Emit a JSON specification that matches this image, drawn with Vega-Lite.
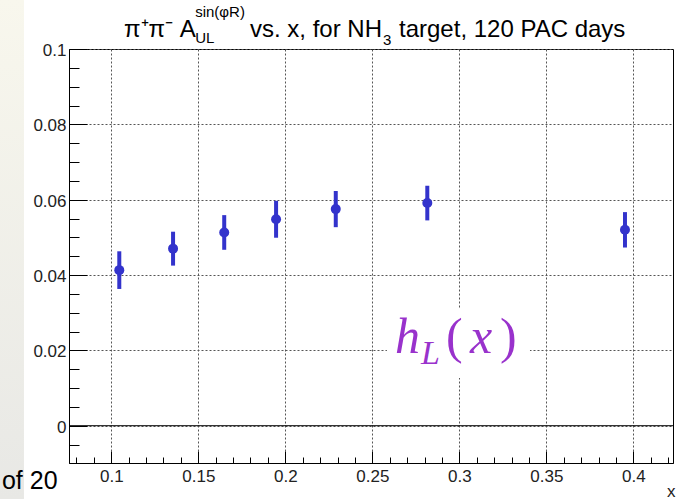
{
  "$schema": "https://vega.github.io/schema/vega-lite/v6.json",
  "width": 604,
  "height": 414,
  "autosize": {"type": "none"},
  "padding": {"left": 69, "top": 49, "right": 4, "bottom": 36},
  "background": "white",
  "config": {
    "view": {"stroke": "black", "strokeWidth": 1},
    "font": "Liberation Sans"
  },
  "data": {
    "values": [
      {"x": 0.1046, "y": 0.0413, "err": 0.0050},
      {"x": 0.1355, "y": 0.0470, "err": 0.0045},
      {"x": 0.1649, "y": 0.0513, "err": 0.0046},
      {"x": 0.1947, "y": 0.0548, "err": 0.0049},
      {"x": 0.2290, "y": 0.0575, "err": 0.0048},
      {"x": 0.2816, "y": 0.0591, "err": 0.0046},
      {"x": 0.3952, "y": 0.0520, "err": 0.0047}
    ]
  },
  "resolve": {"axis": {"x": "independent", "y": "independent"}},
  "layer": [
    {
      "data": {"values": [{}]},
      "mark": {"type": "rect", "fill": "white"},
      "encoding": {
        "x": {"datum": 0.2584, "type": "quantitative", "axis": {"orient": "bottom", "values": [0.08, 0.09, 0.11, 0.12, 0.13, 0.14, 0.16, 0.17, 0.18, 0.19, 0.21, 0.22, 0.23, 0.24, 0.26, 0.27, 0.28, 0.29, 0.31, 0.32, 0.33, 0.34, 0.36, 0.37, 0.38, 0.39, 0.41, 0.42], "tickSize": -6, "tickColor": "black", "labels": false, "grid": false, "domain": false, "title": null}},
        "x2": {"datum": 0.3406},
        "y": {"datum": 0.01266, "type": "quantitative", "axis": {"orient": "left", "values": [-0.005, 0.005, 0.01, 0.015, 0.025, 0.03, 0.035, 0.045, 0.05, 0.055, 0.065, 0.07, 0.075, 0.085, 0.09, 0.095], "tickSize": -10, "tickColor": "black", "labels": false, "grid": false, "domain": false, "title": null}},
        "y2": {"datum": 0.03125}
      }
    },
    {
      "data": {"values": [{}]},
      "mark": {"type": "rule", "color": "black", "strokeWidth": 1},
      "encoding": {"y": {"datum": 0, "type": "quantitative", "axis": null}}
    },
    {
      "mark": {"type": "errorbar", "thickness": 4, "color": "#3333cc", "ticks": false},
      "encoding": {
        "x": {"field": "x", "type": "quantitative", "axis": null},
        "y": {"field": "y", "type": "quantitative", "axis": null},
        "yError": {"field": "err"}
      }
    },
    {
      "mark": {"type": "circle", "size": 100, "color": "#3333cc", "opacity": 1},
      "encoding": {
        "x": {
          "field": "x", "type": "quantitative",
          "scale": {"domain": [0.0757, 0.4228], "nice": false, "zero": false},
          "axis": {
            "orient": "bottom",
            "values": [0.1, 0.15, 0.2, 0.25, 0.3, 0.35, 0.4],
            "format": ".2~f",
            "grid": true, "gridDash": [2, 2], "gridColor": "#555", "gridWidth": 1,
            "tickSize": -12, "tickColor": "black", "domainColor": "black",
            "labelFont": "Liberation Sans", "labelFontSize": 17, "labelColor": "#222", "labelPadding": 17,
            "title": "x", "titleFont": "Liberation Sans", "titleFontSize": 17, "titleFontWeight": "normal", "titleColor": "#222",
            "titleAnchor": "end", "titleAlign": "right", "titleX": 606, "titleY": 33, "titleBaseline": "alphabetic"
          }
        },
        "y": {
          "field": "y", "type": "quantitative",
          "scale": {"domain": [-0.0099, 0.1], "nice": false, "zero": false},
          "axis": {
            "orient": "left",
            "values": [0, 0.02, 0.04, 0.06, 0.08, 0.1],
            "format": ".2~f",
            "grid": true, "gridDash": [2, 2], "gridColor": "#555", "gridWidth": 1,
            "tickSize": -18, "tickColor": "black", "domainColor": "black",
            "labelFont": "Liberation Sans", "labelFontSize": 17, "labelColor": "#222", "labelPadding": 21, "labelOffset": 1.5,
            "title": null
          }
        }
      }
    },
    {
      "data": {"values": [{}]},
      "mark": {"type": "rect", "fill": {"gradient": "linear", "x1": 0, "y1": 0, "x2": 0, "y2": 1, "stops": [{"offset": 0, "color": "#f8f7ed"}, {"offset": 1, "color": "#e8e8e5"}]}},
      "encoding": {
        "x": {"datum": 0.03603, "type": "quantitative", "axis": null},
        "x2": {"datum": 0.04983},
        "y": {"datum": -0.01946, "type": "quantitative", "axis": null},
        "y2": {"datum": 0.11301}
      }
    },
    {
      "data": {"values": [{"t": "of 20"}]},
      "mark": {"type": "text", "align": "left", "baseline": "alphabetic", "fontSize": 25, "font": "Liberation Sans", "color": "black"},
      "encoding": {"text": {"field": "t"}, "x": {"datum": 0.03718, "type": "quantitative", "axis": null}, "y": {"datum": -0.01667, "type": "quantitative", "axis": null}}
    },
    {
      "data": {"values": [{"t": "π⁺π⁻ A"}]},
      "mark": {"type": "text", "align": "left", "baseline": "alphabetic", "fontSize": 24, "font": "Liberation Sans", "color": "black"},
      "encoding": {"text": {"field": "t"}, "x": {"datum": 0.1073, "type": "quantitative", "axis": null}, "y": {"datum": 0.10319, "type": "quantitative", "axis": null}}
    },
    {
      "data": {"values": [{"t": "sin(φR)"}]},
      "mark": {"type": "text", "align": "left", "baseline": "alphabetic", "fontSize": 15, "font": "Liberation Sans", "color": "black"},
      "encoding": {"text": {"field": "t"}, "x": {"datum": 0.14822, "type": "quantitative", "axis": null}, "y": {"datum": 0.10849, "type": "quantitative", "axis": null}}
    },
    {
      "data": {"values": [{"t": "UL"}]},
      "mark": {"type": "text", "align": "left", "baseline": "alphabetic", "fontSize": 15, "font": "Liberation Sans", "color": "black"},
      "encoding": {"text": {"field": "t"}, "x": {"datum": 0.14822, "type": "quantitative", "axis": null}, "y": {"datum": 0.10159, "type": "quantitative", "axis": null}}
    },
    {
      "data": {"values": [{"t": "vs. x, for NH"}]},
      "mark": {"type": "text", "align": "left", "baseline": "alphabetic", "fontSize": 24, "font": "Liberation Sans", "color": "black"},
      "encoding": {"text": {"field": "t"}, "x": {"datum": 0.17971, "type": "quantitative", "axis": null}, "y": {"datum": 0.10319, "type": "quantitative", "axis": null}}
    },
    {
      "data": {"values": [{"t": "3"}]},
      "mark": {"type": "text", "align": "left", "baseline": "alphabetic", "fontSize": 15, "font": "Liberation Sans", "color": "black"},
      "encoding": {"text": {"field": "t"}, "x": {"datum": 0.25615, "type": "quantitative", "axis": null}, "y": {"datum": 0.10106, "type": "quantitative", "axis": null}}
    },
    {
      "data": {"values": [{"t": "target, 120 PAC days"}]},
      "mark": {"type": "text", "align": "left", "baseline": "alphabetic", "fontSize": 24, "font": "Liberation Sans", "color": "black"},
      "encoding": {"text": {"field": "t"}, "x": {"datum": 0.26535, "type": "quantitative", "axis": null}, "y": {"datum": 0.10319, "type": "quantitative", "axis": null}}
    },
    {
      "data": {"values": [{"t": "h"}]},
      "mark": {"type": "text", "align": "left", "baseline": "alphabetic", "fontSize": 50, "font": "Liberation Serif", "fontStyle": "italic", "color": "#9932cc"},
      "encoding": {"text": {"field": "t"}, "x": {"datum": 0.26305, "type": "quantitative", "axis": null}, "y": {"datum": 0.0193, "type": "quantitative", "axis": null}}
    },
    {
      "data": {"values": [{"t": "L"}]},
      "mark": {"type": "text", "align": "left", "baseline": "alphabetic", "fontSize": 34, "font": "Liberation Serif", "fontStyle": "italic", "color": "#9932cc"},
      "encoding": {"text": {"field": "t"}, "x": {"datum": 0.27799, "type": "quantitative", "axis": null}, "y": {"datum": 0.01638, "type": "quantitative", "axis": null}}
    },
    {
      "data": {"values": [{"t": "("}]},
      "mark": {"type": "text", "align": "left", "baseline": "alphabetic", "fontSize": 50, "font": "Liberation Serif", "color": "#9932cc"},
      "encoding": {"text": {"field": "t"}, "x": {"datum": 0.29236, "type": "quantitative", "axis": null}, "y": {"datum": 0.0193, "type": "quantitative", "axis": null}}
    },
    {
      "data": {"values": [{"t": "x"}]},
      "mark": {"type": "text", "align": "left", "baseline": "alphabetic", "fontSize": 50, "font": "Liberation Serif", "fontStyle": "italic", "color": "#9932cc"},
      "encoding": {"text": {"field": "t"}, "x": {"datum": 0.30615, "type": "quantitative", "axis": null}, "y": {"datum": 0.0193, "type": "quantitative", "axis": null}}
    },
    {
      "data": {"values": [{"t": ")"}]},
      "mark": {"type": "text", "align": "left", "baseline": "alphabetic", "fontSize": 50, "font": "Liberation Serif", "color": "#9932cc"},
      "encoding": {"text": {"field": "t"}, "x": {"datum": 0.32339, "type": "quantitative", "axis": null}, "y": {"datum": 0.0193, "type": "quantitative", "axis": null}}
    }
  ]
}
